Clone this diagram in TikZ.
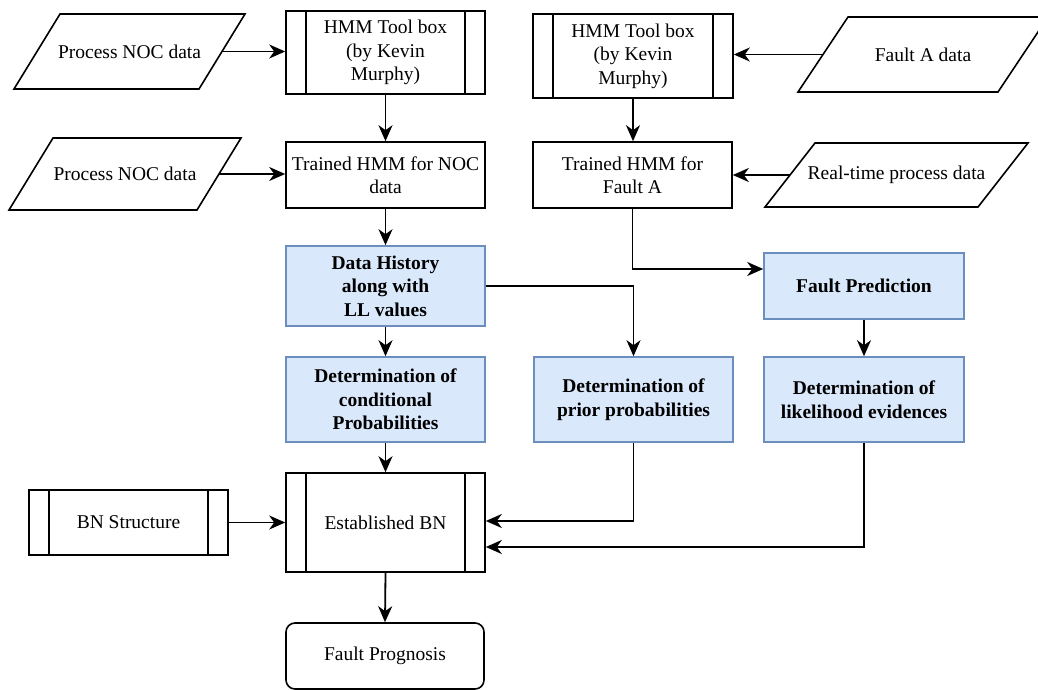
\documentclass[tikz,border=0pt]{standalone}
\usepackage{fontspec}
\setmainfont{Liberation Serif}
\newfontfamily\tnr{Liberation Serif}
\usetikzlibrary{arrows.meta,calc}
\definecolor{bfill}{HTML}{DAE8FC}
\definecolor{bdraw}{HTML}{6C8EBF}
\newcommand\myparashape[5]{%
  \draw[line width=1.6pt] ({#1-#3/2+#5/2},{#2-#4/2}) -- ++(#3,0) -- ++(-#5,#4) -- ++(-#3,0) -- cycle;}
\begin{document}
\begin{tikzpicture}[x=1pt,y=-1pt,
  every node/.style={font=\tnr\fontsize{19.5}{23.5}\selectfont, align=center, inner sep=0pt},
  plainbox/.style={draw=black, line width=1.6pt, rectangle},
  procbox/.style={plainbox, path picture={
     \draw[line width=1.6pt] ([xshift=20pt]path picture bounding box.north west) -- ([xshift=20pt]path picture bounding box.south west);
     \draw[line width=1.6pt] ([xshift=-20pt]path picture bounding box.north east) -- ([xshift=-20pt]path picture bounding box.south east);}},
  bluebox/.style={draw=bdraw, fill=bfill, line width=1.6pt, rectangle, font=\tnr\fontsize{19.5}{23.5}\selectfont\bfseries},
  termbox/.style={plainbox, rounded corners=9pt},
  paratext/.style={draw=none, rectangle},
  arr/.style={-{Stealth[length=16pt,width=14pt,inset=5pt]}, line width=1.8pt}]
\useasboundingbox (0,0) rectangle (1038,690);
\clip (0,0) rectangle (1038,690);

% parallelograms
\myparashape{129.5}{51.5}{185}{75}{46}
\node[paratext, minimum width=185pt, minimum height=75pt] (p1) at (129.5,51.5) {Process NOC data};
\myparashape{125}{174}{188}{72}{44}
\node[paratext, minimum width=188pt, minimum height=72pt] (p2) at (125,174) {Process NOC data};
\myparashape{923}{54.5}{200}{75}{50}
\node[paratext, minimum width=200pt, minimum height=75pt] (pa) at (923,54.5) {Fault A data};
\myparashape{896.5}{175}{213}{64}{50}
\node[paratext, minimum width=213pt, minimum height=64pt] (pr) at (896.5,175) {Real-time process data};

% boxes
\node[procbox, minimum width=199pt, minimum height=83pt] (tb1) at (385.5,52.5) {HMM Tool box\\(by Kevin\\Murphy)};
\node[plainbox, minimum width=199pt, minimum height=66pt] (tn) at (385.5,175) {Trained HMM for NOC\\data};
\node[procbox, minimum width=200pt, minimum height=84pt] (tb2) at (633,56) {HMM Tool box\\(by Kevin\\Murphy)};
\node[plainbox, minimum width=199pt, minimum height=66pt] (ta) at (632.5,175) {Trained HMM for\\Fault A};
\node[bluebox, minimum width=199pt, minimum height=80pt] (dh) at (385.5,286) {Data History\\along with\\LL values};
\node[bluebox, minimum width=199pt, minimum height=85pt] (cp) at (385.5,399.5) {Determination of\\conditional\\Probabilities};
\node[bluebox, minimum width=199pt, minimum height=85pt] (pp) at (633.5,399.5) {Determination of\\prior probabilities};
\node[bluebox, minimum width=200pt, minimum height=66pt] (fp) at (864,286) {Fault Prediction};
\node[bluebox, minimum width=200pt, minimum height=85pt] (le) at (864,399.5) {Determination of\\likelihood evidences};
\node[procbox, minimum width=199pt, minimum height=99pt] (eb) at (385.5,522.5) {Established BN};
\node[procbox, minimum width=199pt, minimum height=65pt] (bs) at (128.5,522.5) {BN Structure};
\node[termbox, minimum width=198pt, minimum height=66pt] (fpr) at (385,656) {Fault Prognosis};

% connectors
\draw[arr] (p1.east) -- (p1.east -| tb1.west);
\draw[arr] (tb1.south) -- (tn.north);
\draw[arr] (p2.east) -- (p2.east -| tn.west);
\draw[arr] (tn.south) -- (dh.north);
\draw[arr] (dh.south) -- (cp.north);
\draw[arr] (dh.east) -| (pp.north);
\draw[arr] (cp.south) -- (eb.north);
\draw[arr] (pa.west) -- (pa.west -| tb2.east);
\draw[arr] (tb2.south) -- (tb2.south |- ta.north);
\draw[arr] (pr.west) -- (pr.west -| ta.east);
\draw[arr] (ta.south) |- ([yshift=17pt]fp.west);
\draw[arr] (fp.south) -- (le.north);
\draw[arr] (pp.south) |- ([yshift=1.5pt]eb.east);
\draw[arr] (le.south) |- ([yshift=-24.5pt]eb.east);
\draw[arr] (bs.east) -- (eb.west);
\draw[arr] (eb.south) -- (fpr.north);
\end{tikzpicture}
\end{document}
